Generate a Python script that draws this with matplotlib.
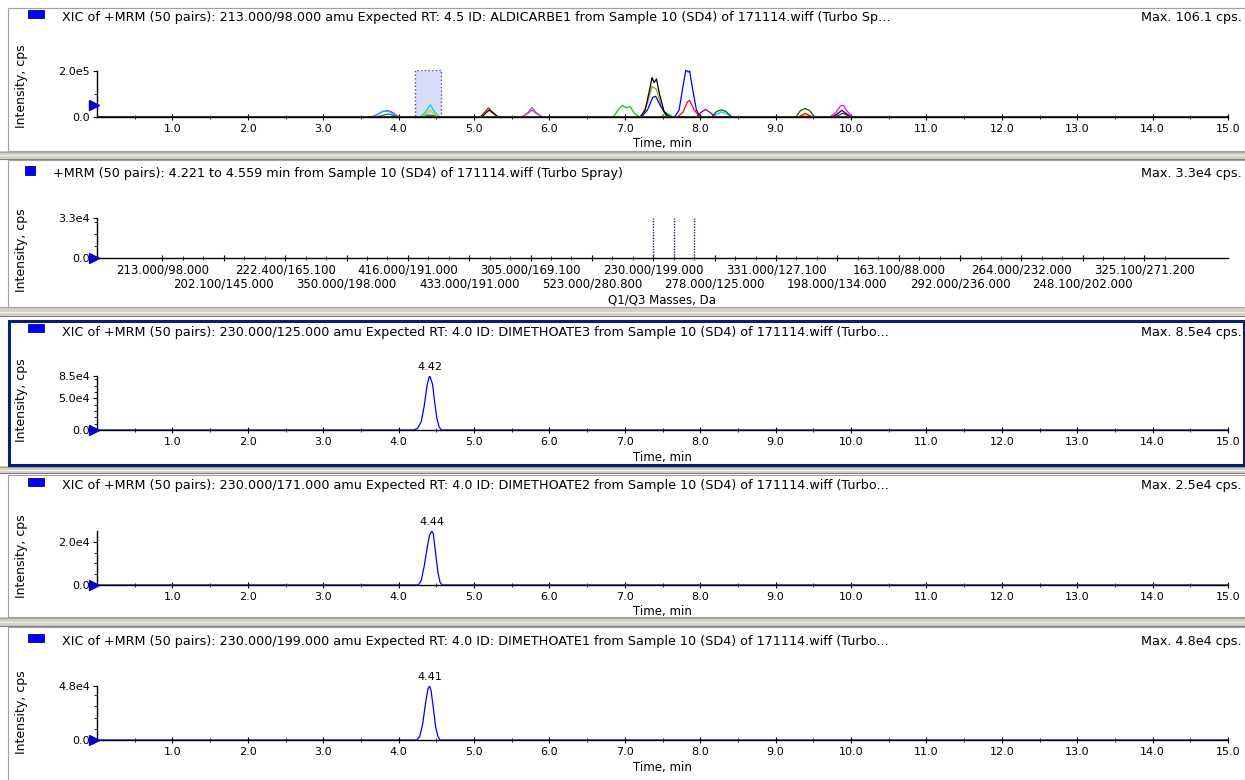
import numpy as np
import matplotlib
matplotlib.use('Agg')
import matplotlib.pyplot as plt
from matplotlib.patches import Rectangle
from matplotlib.transforms import blended_transform_factory

plt.rcParams['font.family'] = ['DejaVu Sans']

W, H = 1245, 780

# ---------------- data ----------------
titles = [
    "XIC of +MRM (50 pairs): 213.000/98.000 amu Expected RT: 4.5 ID: ALDICARBE1 from Sample 10 (SD4) of 171114.wiff (Turbo Sp...",
    "+MRM (50 pairs): 4.221 to 4.559 min from Sample 10 (SD4) of 171114.wiff (Turbo Spray)",
    "XIC of +MRM (50 pairs): 230.000/125.000 amu Expected RT: 4.0 ID: DIMETHOATE3 from Sample 10 (SD4) of 171114.wiff (Turbo...",
    "XIC of +MRM (50 pairs): 230.000/171.000 amu Expected RT: 4.0 ID: DIMETHOATE2 from Sample 10 (SD4) of 171114.wiff (Turbo...",
    "XIC of +MRM (50 pairs): 230.000/199.000 amu Expected RT: 4.0 ID: DIMETHOATE1 from Sample 10 (SD4) of 171114.wiff (Turbo...",
]
max_labels = ["Max. 106.1 cps.", "Max. 3.3e4 cps.", "Max. 8.5e4 cps.",
              "Max. 2.5e4 cps.", "Max. 4.8e4 cps."]

# top XIC overlay: (colour, times, intensities)
xic1 = [
    ('#ff00ff', [0, 3.62, 3.70, 3.78, 3.86, 3.92, 3.98, 4.02, 5.62, 5.70, 5.77, 5.84, 5.92,
                 9.72, 9.80, 9.86, 9.90, 9.95, 10.02, 15],
                [0, 0, 8e3, 2.3e4, 2.8e4, 2.0e4, 5e3, 0, 0, 1.2e4, 3.0e4, 1.2e4, 0,
                 0, 2.0e4, 4.8e4, 5.0e4, 2.5e4, 0, 0]),
    ('#00c8ff', [0, 3.64, 3.72, 3.80, 3.87, 3.94, 4.00, 4.28, 4.35, 4.42, 4.48, 4.55,
                 8.15, 8.22, 8.28, 8.36, 8.42, 15],
                [0, 0, 1.0e4, 2.6e4, 2.4e4, 1.0e4, 0, 0, 1.8e4, 5.3e4, 2.0e4, 0,
                 0, 1.2e4, 2.2e4, 1.2e4, 0, 0]),
    ('#d4ecc4', [0, 4.26, 4.33, 4.40, 4.43, 4.49, 4.56, 15],
                [0, 0, 2.5e4, 7.5e4, 8.4e4, 3.5e4, 0, 0]),
    ('#e0d000', [0, 4.30, 4.37, 4.42, 4.47, 4.54, 9.30, 9.36, 9.40, 9.45, 9.50, 15],
                [0, 0, 1.2e4, 3.0e4, 1.2e4, 0, 0, 5e3, 1.0e4, 5e3, 0, 0]),
    ('#008080', [0, 3.70, 3.78, 3.86, 3.94, 4.00, 4.32, 4.40, 4.46, 4.52, 15],
                [0, 0, 6e3, 1.3e4, 6e3, 0, 0, 8e3, 6e3, 0, 0]),
    ('#8b2500', [0, 5.08, 5.14, 5.19, 5.25, 5.32, 15],
                [0, 0, 2.0e4, 3.9e4, 2.0e4, 0, 0]),
    ('#808080', [0, 5.64, 5.71, 5.77, 5.83, 5.90, 15],
                [0, 0, 1.8e4, 4.1e4, 1.8e4, 0, 0]),
    ('#00d000', [0, 6.85, 6.92, 6.97, 7.02, 7.07, 7.13, 7.20, 7.48, 7.52, 7.55, 7.59, 7.64, 15],
                [0, 0, 3.5e4, 5.1e4, 4.0e4, 4.5e4, 1.5e4, 0, 0, 1.2e4, 1.8e4, 1.0e4, 0, 0]),
    ('#a0a000', [0, 7.22, 7.30, 7.36, 7.42, 7.48, 7.55, 15],
                [0, 0, 6.0e4, 1.33e5, 1.2e5, 5.0e4, 0, 0]),
    ('#0000ff', [0, 7.22, 7.30, 7.37, 7.41, 7.47, 7.55, 7.62, 7.66, 7.72, 7.77, 7.81,
                 7.84, 7.86, 7.90, 7.95, 8.00, 15],
                [0, 0, 3.0e4, 8.5e4, 9.0e4, 5.0e4, 1.0e4, 0, 0, 3.0e4, 1.3e5, 2.05e5,
                 1.95e5, 2.0e5, 1.2e5, 3.0e4, 0, 0]),
    ('#000000', [0, 5.10, 5.15, 5.20, 5.26, 5.32, 7.20, 7.27, 7.33, 7.36, 7.39, 7.42,
                 7.46, 7.52, 7.58, 9.75, 9.82, 9.88, 9.94, 10.00, 15],
                [0, 0, 1.5e4, 3.0e4, 1.5e4, 0, 0, 3.0e4, 1.2e5, 1.71e5, 1.5e5, 1.65e5,
                 1.0e5, 2.5e4, 0, 0, 1.4e4, 2.9e4, 1.4e4, 0, 0]),
    ('#ff0000', [0, 7.70, 7.77, 7.83, 7.86, 7.92, 8.00, 9.30, 9.35, 9.39, 9.44, 9.50, 15],
                [0, 0, 2.0e4, 6.5e4, 7.2e4, 3.0e4, 0, 0, 8e3, 1.6e4, 8e3, 0, 0]),
    ('#800080', [0, 7.95, 8.01, 8.07, 8.13, 8.20, 9.78, 9.84, 9.89, 9.95, 10.00, 15],
                [0, 0, 2.0e4, 3.3e4, 2.0e4, 0, 0, 8e3, 1.6e4, 8e3, 0, 0]),
    ('#006400', [0, 8.15, 8.22, 8.28, 8.34, 8.42, 9.27, 9.33, 9.39, 9.45, 9.52, 15],
                [0, 0, 2.4e4, 3.1e4, 2.4e4, 0, 0, 2.8e4, 3.7e4, 2.8e4, 0, 0]),
]
sel_start, sel_end = 4.221, 4.559

# mass spectrum panel (50 MRM pairs)
mrm_labels = ["213.000/98.000", "202.100/145.000", "222.400/165.100", "350.000/198.000",
              "416.000/191.000", "433.000/191.000", "305.000/169.100", "523.000/280.800",
              "230.000/199.000", "278.000/125.000", "331.000/127.100", "198.000/134.000",
              "163.100/88.000", "292.000/236.000", "264.000/232.000", "248.100/202.000",
              "325.100/271.200"]
n_pairs = 50
stick_idx = [24, 25, 26]
stick_val = [3.3e4, 3.3e4, 3.3e4]

# dimethoate XICs
t3 = [0, 4.20, 4.25, 4.30, 4.34, 4.38, 4.41, 4.42, 4.45, 4.48, 4.51, 4.54, 4.57, 15]
y3 = [0, 0, 2.5e3, 1.3e4, 3.8e4, 7.2e4, 8.5e4, 8.3e4, 7.2e4, 4.2e4, 1.7e4, 4e3, 0, 0]
t4 = [0, 4.26, 4.30, 4.34, 4.38, 4.41, 4.44, 4.46, 4.49, 4.52, 4.55, 4.58, 15]
y4 = [0, 0, 2e3, 8.8e3, 1.75e4, 2.3e4, 2.5e4, 2.38e4, 1.5e4, 6.2e3, 1.2e3, 0, 0]
t5 = [0, 4.24, 4.28, 4.32, 4.36, 4.39, 4.41, 4.43, 4.46, 4.49, 4.52, 4.55, 15]
y5 = [0, 0, 3e3, 1.45e4, 3.4e4, 4.55e4, 4.8e4, 4.4e4, 2.9e4, 1.2e4, 3.4e3, 0, 0]
peak_rt = [4.42, 4.44, 4.41]

ytick_vals = [[0, 2.0e5], [0, 3.3e4], [0, 5.0e4, 8.5e4], [0, 2.0e4], [0, 4.8e4]]
ytick_text = [["0.0", "2.0e5"], ["0.0", "3.3e4"], ["0.0", "5.0e4", "8.5e4"],
              ["0.0", "2.0e4"], ["0.0", "4.8e4"]]
ymax = [2.05e5, 3.3e4, 8.5e4, 2.5e4, 4.8e4]
yminor = [1.0e5, 1.0e4, 1.0e4, 5.0e3, 1.0e4]
marker_y = [5.2e4, 0, 0, 0, 0]

# ---------------- layout (pixels, top origin) ----------------
panel_box = [(8, 151), (160, 307), (321, 465), (475, 617), (627, 780)]
sep_band = [(151, 159), (307, 316), (466, 474), (617, 626)]
title_y = [18, 174, 332, 486, 642]
axes_y = [(69.8, 117), (218, 258), (376, 430), (531, 585), (686, 740)]
xlabel_y = [143, 300, 458, 612, 767]
ylabel_y = [86, 250, 400, 556, 712]
AX_L, AX_R = 97, 1228
TFS = 9.2   # title font size

fig = plt.figure(figsize=(W / 100, H / 100), dpi=100)
fig.patch.set_facecolor('white')


def fx(x):
    return x / W


def fy(y):
    return 1 - y / H


for (a, b) in sep_band:
    r = Rectangle((0, fy(b)), 1, (b - a) / H, transform=fig.transFigure,
                  facecolor='#d4d0c8', edgecolor='none', zorder=-2)
    fig.add_artist(r)
    for yy, c in [(a + 0.5, '#a0a0a0'), (b - 0.5, '#808080'), ((a + b) / 2, '#f0f0f0')]:
        fig.add_artist(plt.Line2D([0, 1], [fy(yy), fy(yy)], transform=fig.transFigure,
                                  color=c, lw=0.8, zorder=-1))

for i, (a, b) in enumerate(panel_box):
    if i == 2:
        r = Rectangle((fx(9), fy(b)), fx(W - 10), (b - a) / H, transform=fig.transFigure,
                      facecolor='white', edgecolor='#0a1f6e', lw=2.2, zorder=-1)
    else:
        r = Rectangle((fx(8), fy(b)), fx(W - 8), (b - a) / H, transform=fig.transFigure,
                      facecolor='white', edgecolor='#a0a0a0', lw=0.8, zorder=-1)
    fig.add_artist(r)

axes = []
for i in range(5):
    top, bot = axes_y[i]
    ax = fig.add_axes([fx(AX_L), fy(bot), (AX_R - AX_L) / W, (bot - top) / H])
    ax.patch.set_alpha(0)
    for s in ['top', 'right']:
        ax.spines[s].set_visible(False)
    for s in ['left', 'bottom']:
        ax.spines[s].set_linewidth(1.0)
        ax.spines[s].set_color('black')
    ytop = ytick_vals[i][-1] if i != 3 else ymax[i]
    ax.set_ylim(0, ymax[i])
    ax.spines['left'].set_bounds(0, ytop)
    ax.set_yticks(ytick_vals[i])
    ax.set_yticklabels(ytick_text[i], fontsize=8)
    ax.set_yticks(np.arange(0, ytop, yminor[i]), minor=True)
    ax.tick_params(axis='y', which='major', direction='out', length=3, width=0.8, pad=2)
    ax.tick_params(axis='y', which='minor', direction='out', length=2, width=0.6)
    ax.tick_params(axis='x', which='major', direction='inout', length=4, width=0.8,
                   pad=3, labelsize=8)
    ax.tick_params(axis='x', which='minor', direction='inout', length=2.5, width=0.6)
    if i != 1:
        ax.set_xlim(0, 15)
        ax.set_xticks(np.arange(1, 16))
        ax.set_xticklabels(['%.1f' % v for v in np.arange(1, 16)])
        ax.set_xticks(np.arange(0.5, 15, 1.0), minor=True)
    axes.append(ax)

    # title, max, labels
    fig.text(fx(62 if i != 1 else 53), fy(title_y[i]), titles[i], fontsize=TFS,
             va='center', ha='left')
    fig.text(fx(1242), fy(title_y[i]), max_labels[i], fontsize=TFS, va='center', ha='right')
    sq_w, sq_h, sq_x = (10, 9, 25) if i == 1 else (16, 8, 28)
    fig.add_artist(Rectangle((fx(sq_x), fy(title_y[i] + (1 if i == 1 else 0))), sq_w / W, sq_h / H,
                             transform=fig.transFigure, facecolor='#0000ff',
                             edgecolor='#000080', lw=0.6))
    fig.text(fx(22), fy(ylabel_y[i]), "Intensity, cps", fontsize=9, rotation=90,
             va='center', ha='center')
    fig.text(fx((AX_L + AX_R) / 2), fy(xlabel_y[i]),
             "Q1/Q3 Masses, Da" if i == 1 else "Time, min", fontsize=8.5,
             va='center', ha='center')
    # threshold marker on y axis
    tr = blended_transform_factory(ax.transAxes, ax.transData)
    ax.plot([-3.5 / (AX_R - AX_L)], [marker_y[i]], marker='>', color='#0000c8',
            markersize=6.5, transform=tr, clip_on=False, zorder=5)

# panel 1: overlay of XICs with selection box
ax = axes[0]
ax.axvspan(sel_start, sel_end, ymin=0, ymax=1, facecolor='#d8dcf8', edgecolor='#505090',
           linestyle=':', lw=1.0, zorder=1)
for col, tt, yy in xic1:
    ax.plot(tt, yy, color=col, lw=0.9, zorder=2)

# panel 2: stick spectrum over MRM pairs, labels in two staggered rows
ax = axes[1]
ax.set_xlim(-3.2, 52.1)
major_pos = np.arange(len(mrm_labels)) * 3
ax.set_xticks(major_pos)
ax.set_xticklabels([lab if k % 2 == 0 else '' for k, lab in enumerate(mrm_labels)],
                   fontsize=8.5)
ax.tick_params(axis='x', which='major', pad=2)
ax.set_xticks(np.arange(n_pairs), minor=True)
sec = ax.secondary_xaxis('bottom')
sec.set_xticks(major_pos[1::2])
sec.set_xticklabels(mrm_labels[1::2], fontsize=8.5)
sec.tick_params(axis='x', length=0, pad=14)
sec.spines['bottom'].set_visible(False)
ax.vlines(stick_idx, 0, stick_val, colors='#1c1c8c', linestyles=(0, (1, 1)), lw=1.0)

# panels 3-5: single XIC peaks
for ax, tt, yy, rt in zip(axes[2:], [t3, t4, t5], [y3, y4, y5], peak_rt):
    ax.plot(tt, yy, color='#0000ff', lw=0.9)
    ax.annotate('%.2f' % rt, xy=(rt, max(yy)), xytext=(0, 3), textcoords='offset points',
                ha='center', va='bottom', fontsize=8, annotation_clip=False)

fig.savefig('out.png', dpi=100, facecolor='white')
